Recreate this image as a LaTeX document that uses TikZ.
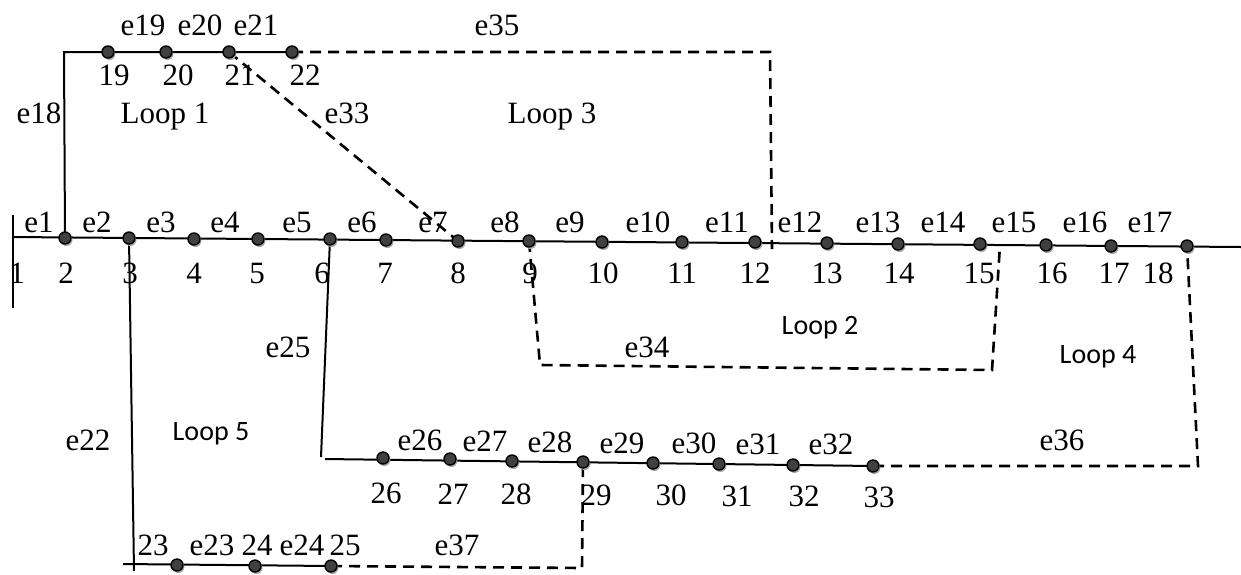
\documentclass[tikz,border=0pt]{standalone}
\usepackage{fontspec}
\setmainfont{Liberation Serif}
\newfontfamily\calfont{Carlito}
\usepackage{tikz}
\usetikzlibrary{shadows}
\tikzset{
	bus/.style={circle,inner sep=0pt,minimum size=6pt,fill=black!75,draw=black,line width=0.7pt,
		drop shadow={shadow xshift=0.7pt,shadow yshift=-1pt,fill=black!35,opacity=1}},
	feeder/.style={line width=1pt},
	tieline/.style={line width=1.3pt,dash pattern=on 5.5pt off 3.5pt},
	txt/.style={font=\fontsize{15.5}{18}\selectfont,inner sep=0pt,text depth=0pt},
	sanstxt/.style={font=\fontsize{14}{16}\selectfont\calfont,inner sep=0pt,text depth=0pt},
}

\begin{document}
\begin{tikzpicture}[x=0.5pt,y=-0.5pt]
		\useasboundingbox (0,0) rectangle (1241,574);
		\coordinate (M0) at (12,237);
		\coordinate (M1) at (1241,247);
		\coordinate (B0) at (13,215);
		\coordinate (B1) at (13,308);
		\foreach \N/\X/\Y in {2/65/238, 3/129/238, 4/194/239, 5/258/239, 6/330/239, 7/386/240,
			8/458/241, 9/529/241, 10/602/242, 11/682/242, 12/755/242, 13/827/243, 14/898/244,
			15/980/244, 16/1046/245, 17/1111/246, 18/1187/246,
			19/108/52, 20/166/52, 21/229/52, 22/292/52,
			23/177/565, 24/255/566, 25/331/566,
			26/383/458, 27/450/459, 28/512/461, 29/583/462, 30/653/463, 31/719/464, 32/793/465, 33/873/466}{
			\coordinate (N\N) at (\X,\Y);
		}
		\coordinate (C18) at (64,52);
		\coordinate (C22) at (134,571);
		\coordinate (C23) at (123,564);
		\coordinate (C25) at (321,457);
		\coordinate (C26) at (325,459);
		\coordinate (C35) at (770,52);
		\coordinate (C35b) at (772,249);
		\coordinate (C34a) at (540,365);
		\coordinate (C34b) at (992,370);
		\coordinate (C34c) at (1000,245);
		\coordinate (C36) at (1198,466);
		\coordinate (C37) at (582,568);

		\draw[feeder] (M0) -- (M1);
		\draw[feeder] (B0) -- (B1);
		\draw[feeder] (N2) -- (C18) -- (N22);
		\draw[feeder] (N3) -- (C22);
		\draw[feeder] (C23) -- (N25);
		\draw[feeder] (N6) -- (C25);
		\draw[feeder] (C26) -- (N33);

		\draw[tieline] (N22) -- (C35) -- (C35b);
		\draw[tieline] (N21) -- (N8);
		\draw[tieline] (N9) -- (C34a) -- (C34b) -- (C34c);
		\draw[tieline] (N33) -- (C36) -- (N18);
		\draw[tieline] (N25) -- (C37) -- (N29);

		\foreach \N in {2,...,33}{
			\node[bus] (D\N) at (N\N) {};
		}

		\foreach \T/\X/\Y in {e1/39/222, e2/97/222, e3/161/222, e4/225/222, e5/297/222, e6/362/222,
			e7/433/222, e8/505/222, e9/570/222, e10/648/222, e11/727/222, e12/800/222, e13/878/222,
			e14/943/222, e15/1014/222, e16/1085/222, e17/1150/222,
			e18/39/113, e19/143/25, e20/200/25, e21/256/25, e22/88/440, e23/212/545, e24/302/545,
			e25/288/347, e26/420/440, e27/485/441, e28/550/442, e29/622/443, e30/694/443,
			e31/758/444, e32/831/444, e33/347/113, e34/647/347, e35/497/25, e36/1062/440, e37/457/545}{
			\node[txt] (l\T) at (\X,\Y) {\T};
		}
		\foreach \T/\X/\Y in {1/17/273, 2/66/273, 3/130/273, 4/194/273, 5/257/273, 6/322/273,
			7/385/273, 8/458/273, 9/530/273, 10/603/273, 11/682/273, 12/755/273, 13/827/273,
			14/899/273, 15/979/273, 16/1052/273, 17/1114/273, 18/1158/273,
			19/114/75, 20/178/75, 21/240/75, 22/305/75, 23/153/545, 24/257/545, 25/345/545,
			26/386/493, 27/453/494, 28/516/494, 29/596/495, 30/671/495, 31/737/496, 32/804/496, 33/879/497}{
			\node[txt] (n\T) at (\X,\Y) {\T};
		}
		\node[txt] (L1) at (165,113) {Loop 1};
		\node[txt] (L3) at (552,113) {Loop 3};
		\node[sanstxt] (L2) at (820,325) {Loop 2};
		\node[sanstxt] (L4) at (1098,355) {Loop 4};
		\node[sanstxt] (L5) at (211,432) {Loop 5};
	\end{tikzpicture}
\end{document}
